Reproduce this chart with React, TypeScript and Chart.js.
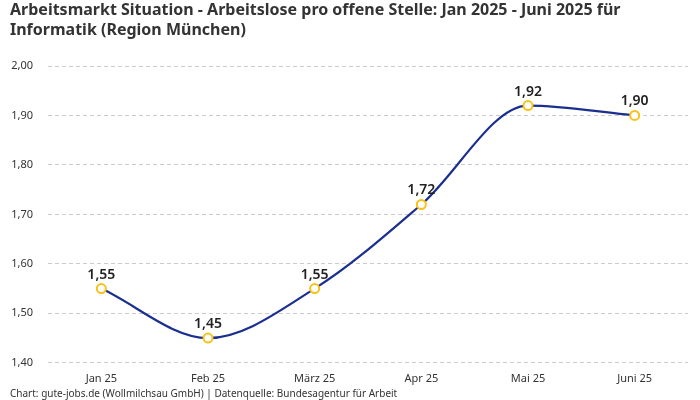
import React, { useEffect, useRef } from "react";
import { Chart, registerables } from "chart.js";

Chart.register(...registerables);

const categories = ["Jan 25", "Feb 25", "März 25", "Apr 25", "Mai 25", "Juni 25"];
const values = [1.55, 1.45, 1.55, 1.72, 1.92, 1.9];
const titleLines = [
  "Arbeitsmarkt Situation - Arbeitslose pro offene Stelle: Jan 2025 - Juni 2025 für",
  "Informatik (Region München)",
];
const footerText = "Chart: gute-jobs.de (Wollmilchsau GmbH) | Datenquelle: Bundesagentur für Arbeit";

const fmt = (v: number) => v.toFixed(2).replace(".", ",");

const labelPlugin = {
  id: "pointLabels",
  afterDatasetsDraw(chart: any) {
    const ctx = chart.ctx;
    const meta = chart.getDatasetMeta(0);
    ctx.save();
    ctx.font = "600 14px 'Noto Sans', sans-serif";
    ctx.fillStyle = "#222";
    ctx.textAlign = "center";
    ctx.textBaseline = "bottom";
    meta.data.forEach((pt: any, i: number) => {
      ctx.fillText(fmt(values[i]), pt.x, pt.y - 7);
    });
    ctx.restore();
  },
};

export default function App() {
  const ref = useRef<HTMLCanvasElement>(null);
  useEffect(() => {
    document.body.style.margin = "0";
    const chart = new Chart(ref.current!, {
      type: "line",
      data: {
        labels: categories,
        datasets: [
          {
            data: values,
            borderColor: "#1b2f8f",
            borderWidth: 2.2,
            cubicInterpolationMode: "monotone",
            pointBackgroundColor: "#ffffff",
            pointBorderColor: "#f7c21a",
            pointBorderWidth: 2,
            pointRadius: 4.5,
            fill: false,
          },
        ],
      },
      options: {
        responsive: false,
        animation: false,
        layout: { padding: { left: 10, right: 12, top: 0, bottom: 0 } },
        plugins: {
          legend: { display: false },
          tooltip: { enabled: false },
          title: {
            display: true,
            text: titleLines,
            align: "start",
            color: "#333",
            font: { family: "'Noto Sans', sans-serif", size: 16, weight: "bold", lineHeight: 1.25 },
            padding: { top: 0, bottom: 26 },
          },
          subtitle: {
            display: true,
            text: footerText,
            position: "bottom",
            align: "start",
            color: "#333",
            font: { family: "'Noto Sans', sans-serif", size: 10 },
            padding: { top: 2, bottom: 0 },
          },
        },
        scales: {
          x: {
            offset: true,
            grid: { display: false },
            border: { display: false },
            ticks: { color: "#333", font: { family: "'Noto Sans', sans-serif", size: 11 }, padding: 1 },
          },
          y: {
            min: 1.4,
            max: 2.0,
            border: { display: false, dash: [4, 3] },
            grid: { color: "#cccccc", tickLength: 0 },
            afterFit: (s: any) => {
              s.width = 38;
            },
            ticks: {
              stepSize: 0.1,
              color: "#333",
              padding: 15,
              font: { family: "'Noto Sans', sans-serif", size: 11 },
              callback: (v: any) => fmt(Number(v)),
            },
          },
        },
      },
      plugins: [labelPlugin],
    } as any);
    return () => chart.destroy();
  }, []);
  return <canvas ref={ref} width={700} height={400} style={{ display: "block" }} />;
}
